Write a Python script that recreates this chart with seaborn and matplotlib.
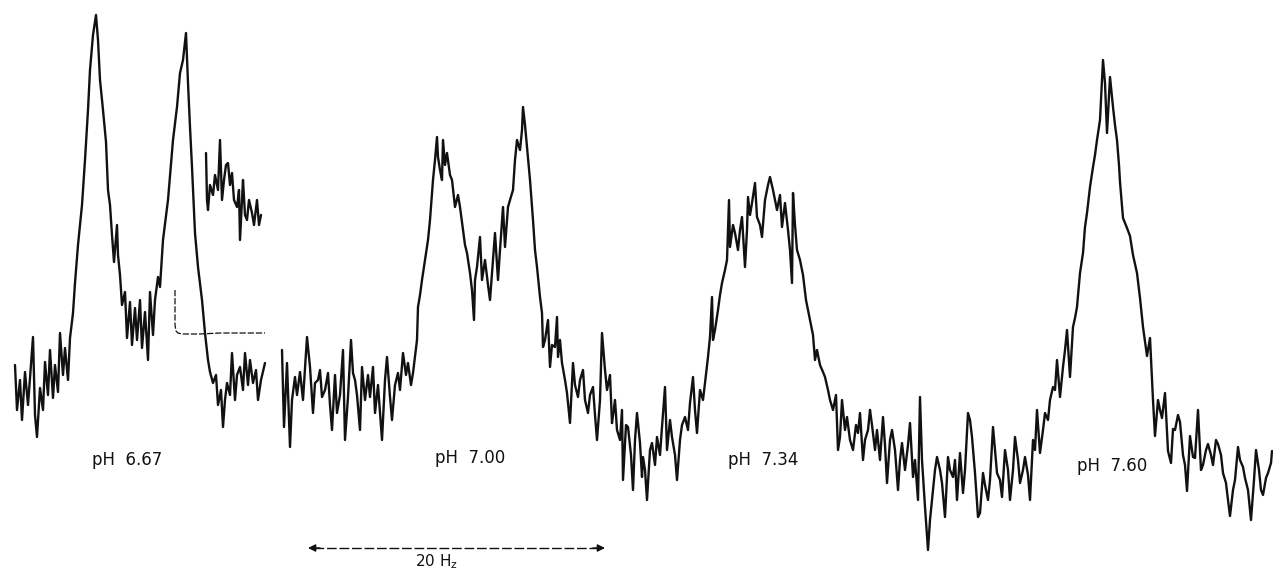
import matplotlib
matplotlib.use("Agg")
import matplotlib.pyplot as plt
import seaborn as sns
import pandas as pd

# Traces: x = horizontal position, y = depth from top (pixel-like units)
ph667_x = [15,17,20,22,25,28,30,33,35,37,40,43,45,48,50,53,55,58,60,63,65,68,70,73,75,78,80,82,85,88,90,93,96,98,100,103,106,108,110,112,114,117,118,120,122,125,127,130,132,135,137,140,142,145,148,150,153,155,158,160,163,168,173,177,180,183,186,188,190,192,195,198,202,205,208,210,213,216,218,221,223,225,227,230,232,235,237,240,243,245,248,250,253,256,258,261,265]
ph667_y = [365,410,380,420,372,405,378,337,415,437,388,410,362,395,350,398,365,392,333,375,348,380,338,313,283,245,225,205,160,110,70,35,15,40,80,110,142,190,205,235,262,225,255,275,305,292,338,302,345,308,340,300,348,312,360,292,335,300,277,287,240,200,140,107,73,60,33,83,127,167,233,267,300,333,360,372,383,375,405,390,427,400,383,395,353,400,375,367,390,353,385,360,383,370,400,380,363]

inset_x = [206,207,208,210,213,215,218,220,222,224,226,228,230,232,234,237,239,240,242,243,245,247,249,252,254,257,259,261]
inset_y = [153,200,210,185,195,175,190,140,200,180,165,163,185,173,200,207,190,240,200,180,215,220,200,213,225,200,225,215]

integral_x = [175,175,176,178,182,200,220,240,265]
integral_y = [290,325,331,333,334,334,333,333,333]

ph700_x = [282,284,287,290,292,295,297,300,303,307,310,313,315,318,320,322,325,328,330,332,335,337,340,343,345,348,351,353,355,357,360,362,365,368,370,373,375,378,382,385,387,390,392,395,398,400,403,406,408,411,413,417,418,420,422,425,428,430,433,435,437,438,440,442,443,445,447,450,452,455,458,460,463,465,467,470,472,474,475,477,480,482,485,488,490,493,495,498,500,503,505,508,510,513,515,517,520,522,523,525,527,530,533,535,537,540,542,543,545,548,550,552,555,557,558,560,562,565,567,570,573,575,578,580,583,585,588,590,593,595,597,600,602,605,607,610,612]
ph700_y = [350,427,363,447,400,377,395,372,400,337,367,413,383,380,370,397,390,373,405,430,375,413,395,350,440,397,340,373,380,395,430,367,400,375,397,367,413,385,440,380,357,397,420,385,373,390,353,375,363,385,373,340,307,295,280,260,240,220,180,160,137,157,170,180,140,165,153,175,180,207,195,207,230,245,253,273,290,320,280,267,237,280,260,285,300,260,233,280,250,207,247,207,200,190,160,140,150,130,107,125,147,180,220,250,267,297,313,347,340,320,367,345,347,317,357,340,363,380,393,423,363,385,397,380,370,400,413,395,387,415,440,400,333,370,390,375,423]

ph734_x = [612,615,617,620,622,623,626,628,631,633,635,637,640,642,643,645,647,650,652,655,657,660,662,665,667,670,672,675,677,680,682,685,688,690,693,695,697,700,703,705,708,710,712,713,715,718,720,722,725,727,729,730,733,735,738,740,742,745,747,748,750,752,755,757,760,762,765,768,770,773,775,777,780,782,785,788,790,792,793,795,797,800,803,806,810,813,815,817,820,823,825,828,830,833,836,838,840,842,845,847,850,853,856,858,860,863,865,868,870]
ph734_y = [423,400,430,440,410,480,425,427,455,490,440,413,443,477,457,470,500,450,443,465,437,455,427,387,450,420,437,455,480,440,425,417,430,403,377,410,433,390,400,383,357,337,297,340,330,310,295,283,270,260,200,247,225,233,250,230,217,267,230,197,215,203,183,217,225,237,200,185,177,190,200,210,195,227,203,230,250,283,193,225,250,260,275,300,320,335,360,350,365,372,377,390,400,410,395,450,437,400,430,417,440,450,425,433,413,460,440,430,410]

ph760_x = [870,872,875,877,880,883,885,887,890,892,895,898,900,902,905,908,910,913,915,918,920,922,925,928,930,933,935,937,940,942,945,948,950,953,955,957,960,963,965,968,970,972,975,978,980,983,985,988,990,993,995,997,1000,1002,1005,1008,1010,1013,1015,1018,1020,1023,1025,1028,1030,1033,1035,1037,1040,1043,1045,1048,1050,1053,1055,1057,1060,1063,1065,1067,1070,1073,1075,1077,1080,1083,1085,1087,1090,1093,1095,1097,1100,1103,1105,1107,1110,1113,1115,1117,1119,1120,1123,1127,1130,1133,1137,1140,1143,1147,1150,1153,1155,1158,1160,1162,1165,1168,1171,1173,1175,1178,1180,1183,1185,1187,1190,1193,1195,1198,1201,1203,1206,1208,1211,1213,1216,1218,1221,1223,1226,1228,1230,1233,1235,1238,1240,1243,1245,1248,1251,1254,1256,1259,1261,1263,1266,1268,1271,1272]
ph760_y = [410,425,450,430,460,417,445,483,440,430,450,490,460,443,470,445,423,477,460,500,397,460,507,550,520,490,470,457,470,483,517,457,470,477,460,500,453,493,470,413,420,437,473,517,513,473,485,500,480,427,450,473,480,497,450,470,500,470,437,460,483,470,457,475,500,440,450,410,453,430,413,420,400,387,390,360,397,367,350,330,377,327,318,307,273,253,227,213,187,167,155,140,120,60,83,133,77,107,125,140,165,182,218,228,236,255,273,298,327,356,338,400,436,400,410,418,393,451,463,429,430,415,422,455,465,491,436,457,458,410,470,465,450,444,455,465,440,444,455,473,483,500,516,490,480,447,460,467,478,490,520,480,450,470,490,495,478,473,463,451]

labels = ["pH  6.67", "pH  7.00", "pH  7.34", "pH  7.60"]
label_x = [127, 470, 763, 1112]
label_y = [460, 458, 460, 466]

scale_from, scale_to, scale_level = 308, 605, 548
scale_text = "20 H$_\\mathregular{z}$"
scale_text_x = 437

sns.set_theme(style="white")
plt.rcParams['font.family'] = ['DejaVu Sans']

fig = plt.figure(figsize=(12.73, 5.70), dpi=100)
ax = fig.add_axes([0, 0, 1, 1])

ink = "#111111"
for xs, ys in [(ph667_x, ph667_y), (ph700_x, ph700_y), (ph734_x, ph734_y), (ph760_x, ph760_y),
               (inset_x, inset_y)]:
    df = pd.DataFrame({"x": xs, "y": ys})
    sns.lineplot(data=df, x="x", y="y", ax=ax, estimator=None, sort=False,
                 color=ink, lw=1.7)

dfi = pd.DataFrame({"x": integral_x, "y": integral_y})
sns.lineplot(data=dfi, x="x", y="y", ax=ax, estimator=None, sort=False,
             color=ink, lw=0.9, linestyle=(0, (5, 1.5)))

for t, lx, ly in zip(labels, label_x, label_y):
    ax.text(lx, ly, t, ha="center", va="center", fontsize=12, color=ink)

# scale bar: dashed shaft with solid heads
ax.plot([scale_from + 6, scale_to - 6], [scale_level, scale_level], color=ink, lw=1.0,
        linestyle=(0, (7, 2)))
ax.annotate("", xy=(scale_from, scale_level), xytext=(scale_from + 12, scale_level),
            arrowprops=dict(arrowstyle="-|>", lw=1.0, color=ink, mutation_scale=11,
                            shrinkA=0, shrinkB=0))
ax.annotate("", xy=(scale_to, scale_level), xytext=(scale_to - 12, scale_level),
            arrowprops=dict(arrowstyle="-|>", lw=1.0, color=ink, mutation_scale=11,
                            shrinkA=0, shrinkB=0))
ax.text(scale_text_x, scale_level + 4, scale_text, ha="center", va="top",
        fontsize=11, color=ink)

ax.set_xlim(0, 1273)
ax.set_ylim(570, 0)
ax.set_axis_off()
fig.savefig("out.png", dpi=100, facecolor="white")
